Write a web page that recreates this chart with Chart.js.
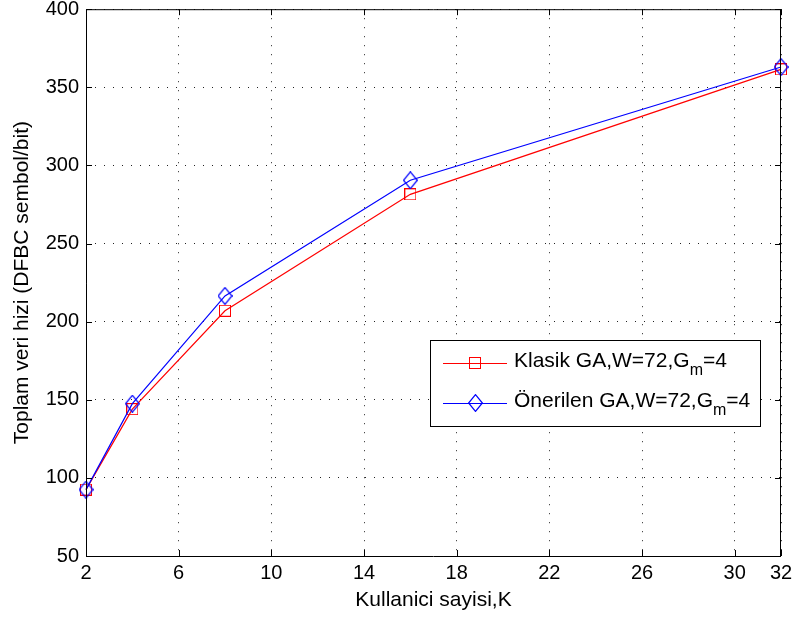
<!DOCTYPE html>
<html>
<head>
<meta charset="utf-8">
<script src="https://cdn.jsdelivr.net/npm/chart.js@4/dist/chart.umd.min.js"></script>
<style>
  html, body { margin: 0; padding: 0; background: #fff; }
  #wrap { width: 797px; height: 622px; }
</style>
</head>
<body>
<div id="wrap"><canvas id="rate" width="797" height="622"></canvas></div>
<script>
// users per cell and total data rate of the two GA variants
const users = [2, 4, 8, 16, 32];
const klasikRate = [92.5, 144, 207, 281.5, 361.5];
const onerilenRate = [92.5, 147.5, 216.5, 290.5, 363];
const xTicks = [2, 6, 10, 14, 18, 22, 26, 30, 32];
const yTicks = [50, 100, 150, 200, 250, 300, 350, 400];

const xTitle = `Kullanici sayisi,K`;
const yTitle = `Toplam veri hizi (DFBC sembol/bit)`;
// legend text split around the subscript
const klasikLabel = [`Klasik GA,W=72,G`, `m`, `=4`];
const onerilenLabel = [`Önerilen GA,W=72,G`, `m`, `=4`];

const FONT = `"Liberation Sans", Arial, Helvetica, sans-serif`;
const RED = `#ff0000`;
const BLUE = `#0000ff`;

// open markers
function squareMarker(color) {
  const c = document.createElement(`CANVAS`);
  c.width = 12; c.height = 12;
  const g = c.getContext(`2d`);
  g.strokeStyle = color;
  g.lineWidth = 1;
  g.strokeRect(0.5, 0.5, 11, 11);
  return c;
}
function diamondMarker(color) {
  const c = document.createElement(`CANVAS`);
  c.width = 15; c.height = 18;
  const g = c.getContext(`2d`);
  g.strokeStyle = color;
  g.lineWidth = 1.2;
  g.beginPath();
  g.moveTo(7.5, 0.6);
  g.lineTo(14.4, 9);
  g.lineTo(7.5, 17.4);
  g.lineTo(0.6, 9);
  g.closePath();
  g.stroke();
  return c;
}
const redSquare = squareMarker(RED);
const blueDiamond = diamondMarker(BLUE);

// axes box with inward tick marks, like a matlab plot
const frame = {
  id: `frame`,
  afterDatasetsDraw(chart) {
    const {ctx, chartArea: a, scales} = chart;
    ctx.save();
    ctx.strokeStyle = `#000`;
    ctx.lineWidth = 1;
    ctx.beginPath();
    ctx.rect(a.left + 0.5, a.top + 0.5, a.right - a.left - 1, a.bottom - a.top);
    const len = 6;
    xTicks.forEach(v => {
      const px = Math.round(scales.x.getPixelForValue(v)) + 0.5;
      ctx.moveTo(px, a.bottom); ctx.lineTo(px, a.bottom - len);
      ctx.moveTo(px, a.top); ctx.lineTo(px, a.top + len);
    });
    yTicks.forEach(v => {
      const py = Math.round(scales.y.getPixelForValue(v)) + 0.5;
      ctx.moveTo(a.left, py); ctx.lineTo(a.left + len, py);
      ctx.moveTo(a.right, py); ctx.lineTo(a.right - len, py);
    });
    ctx.stroke();
    ctx.restore();
  }
};

// legend box with subscripted labels
const subLegend = {
  id: `subLegend`,
  afterDraw(chart) {
    const {ctx} = chart;
    const box = {x: 430.5, y: 340.5, w: 330, h: 86};
    ctx.save();
    ctx.fillStyle = `#fff`;
    ctx.fillRect(box.x, box.y, box.w, box.h);
    ctx.strokeStyle = `#000`;
    ctx.lineWidth = 1;
    ctx.strokeRect(box.x, box.y, box.w, box.h);

    const rows = [
      {y: 363, color: RED, marker: redSquare, parts: klasikLabel},
      {y: 403, color: BLUE, marker: blueDiamond, parts: onerilenLabel},
    ];
    rows.forEach(r => {
      ctx.strokeStyle = r.color;
      ctx.lineWidth = 1.2;
      ctx.beginPath();
      ctx.moveTo(443, r.y + 0.5);
      ctx.lineTo(507, r.y + 0.5);
      ctx.stroke();
      ctx.drawImage(r.marker, Math.round(475 - r.marker.width / 2), Math.round(r.y - r.marker.height / 2));

      ctx.fillStyle = `#000`;
      ctx.textBaseline = `alphabetic`;
      const base = r.y + 4;
      let x = 514;
      ctx.font = `21px ${FONT}`;
      ctx.fillText(r.parts[0], x, base);
      x += ctx.measureText(r.parts[0]).width;
      ctx.font = `16px ${FONT}`;
      ctx.fillText(r.parts[1], x, base + 8);
      x += ctx.measureText(r.parts[1]).width;
      ctx.font = `21px ${FONT}`;
      ctx.fillText(r.parts[2], x, base);
    });
    ctx.restore();
  }
};

const gridDash = [1, 8];

// eslint-disable-next-line no-unused-vars
const rateChart = new Chart(document.getElementById(`rate`), {
  type: `line`,
  data: {
    datasets: [{
      label: klasikLabel.join(``),
      data: users.map((k, i) => ({x: k, y: klasikRate[i]})),
      borderColor: RED,
      borderWidth: 1.2,
      pointStyle: redSquare,
      pointRadius: 6,
      tension: 0,
      fill: false,
      clip: 10,
      order: 1
    }, {
      label: onerilenLabel.join(``),
      data: users.map((k, i) => ({x: k, y: onerilenRate[i]})),
      borderColor: BLUE,
      borderWidth: 1.2,
      pointStyle: blueDiamond,
      pointRadius: 8,
      tension: 0,
      fill: false,
      clip: 10,
      order: 0
    }]
  },
  options: {
    responsive: false,
    animation: false,
    devicePixelRatio: 1,
    layout: {padding: {left: 0, right: 16, top: 8, bottom: 0}},
    plugins: {
      legend: {display: false},
      tooltip: {enabled: false}
    },
    scales: {
      x: {
        type: `linear`,
        min: 2,
        max: 32,
        afterBuildTicks: axis => { axis.ticks = xTicks.map(v => ({value: v})); },
        afterFit: axis => { axis.height = 66; axis.paddingLeft = 0; axis.paddingRight = 0; },
        ticks: {
          color: `#000`,
          font: {family: FONT, size: 20},
          padding: 5,
          maxRotation: 0,
          autoSkip: false,
          callback: v => String(v)
        },
        grid: {color: `#222`, lineWidth: 1, drawTicks: false, borderDash: gridDash},
        border: {display: false, dash: gridDash},
        title: {
          display: true,
          text: xTitle,
          color: `#000`,
          font: {family: FONT, size: 21},
          padding: {top: 0, bottom: 9}
        }
      },
      y: {
        min: 50,
        max: 400,
        afterBuildTicks: axis => { axis.ticks = yTicks.map(v => ({value: v})); },
        afterFit: axis => { axis.width = 86; axis.paddingTop = 0; axis.paddingBottom = 0; },
        ticks: {
          color: `#000`,
          font: {family: FONT, size: 20},
          padding: 7,
          callback: v => String(v)
        },
        grid: {color: `#222`, lineWidth: 1, drawTicks: false, borderDash: gridDash},
        border: {display: false, dash: gridDash},
        title: {
          display: true,
          text: yTitle,
          color: `#000`,
          font: {family: FONT, size: 21},
          padding: {top: 10, bottom: 0}
        }
      }
    }
  },
  plugins: [frame, subLegend]
});
</script>
</body>
</html>
